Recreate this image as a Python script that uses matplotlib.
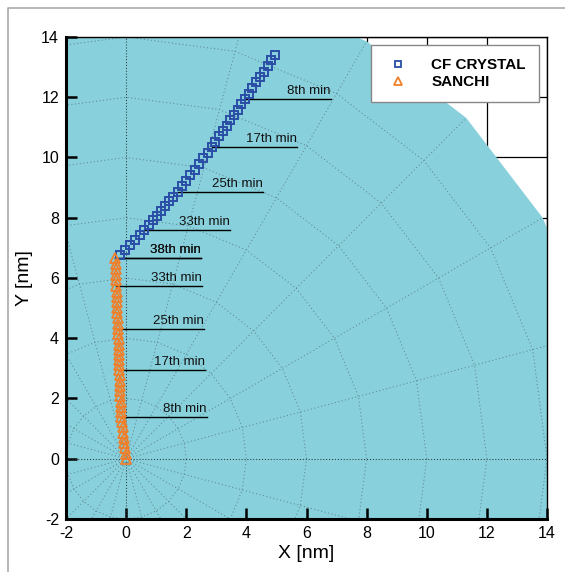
import numpy as np
import matplotlib
matplotlib.use('Agg')
import matplotlib.pyplot as plt
from matplotlib.lines import Line2D

plt.rcParams['font.family'] = ['Liberation Sans', 'DejaVu Sans']
plt.rcParams['axes.unicode_minus'] = False

# ---- data ----
minutes = list(range(39))

blue_x = [4.96, 4.83, 4.71, 4.58, 4.46, 4.33, 4.20, 4.08, 3.95, 3.83,
          3.71, 3.58, 3.46, 3.34, 3.22, 3.09, 2.97, 2.85, 2.71, 2.57,
          2.42, 2.28, 2.14, 2.00, 1.85, 1.71, 1.57, 1.44, 1.30, 1.16,
          1.02, 0.89, 0.75, 0.61, 0.45, 0.29, 0.12, -0.04, -0.20]
blue_y = [13.40, 13.22, 13.03, 12.85, 12.67, 12.49, 12.30, 12.12, 11.94, 11.76,
          11.59, 11.41, 11.23, 11.06, 10.88, 10.70, 10.53, 10.35, 10.16, 9.97,
          9.79, 9.60, 9.41, 9.22, 9.04, 8.85, 8.69, 8.54, 8.38, 8.22,
          8.06, 7.91, 7.75, 7.59, 7.42, 7.25, 7.09, 6.93, 6.77]

orange_x = [0.00, -0.02, -0.04, -0.06, -0.08, -0.10, -0.12, -0.14, -0.16, -0.17,
            -0.17, -0.18, -0.19, -0.20, -0.21, -0.21, -0.22, -0.23, -0.23, -0.24,
            -0.24, -0.25, -0.25, -0.25, -0.26, -0.26, -0.27, -0.28, -0.29, -0.30,
            -0.30, -0.31, -0.32, -0.33, -0.34, -0.34, -0.35, -0.35, -0.36]
orange_y = [0.00, 0.17, 0.35, 0.52, 0.69, 0.86, 1.04, 1.21, 1.38, 1.55,
            1.73, 1.90, 2.07, 2.25, 2.42, 2.59, 2.77, 2.94, 3.11, 3.28,
            3.45, 3.62, 3.79, 3.96, 4.13, 4.30, 4.48, 4.66, 4.84, 5.02,
            5.19, 5.37, 5.55, 5.73, 5.92, 6.10, 6.29, 6.47, 6.66]

label_minutes = [8, 17, 25, 33, 38]
label_texts = ['8th min', '17th min', '25th min', '33th min', '38th min']

series_names = ['CF CRYSTAL', 'SANCHI']

ticks = [-2, 0, 2, 4, 6, 8, 10, 12, 14]

# ---- styling ----
fill_color = '#88D0DC'
mesh_color = '#5f8891'
blue = '#2A4EA6'
orange = '#F07F2A'
label_len = 2.85

fig = plt.figure(figsize=(5.65, 5.72), dpi=100)
ax = fig.add_axes([66 / 565, 1 - 519 / 572, (547 - 66) / 565, (519 - 37) / 572])
ax.set_xlim(-2, 14)
ax.set_ylim(-2, 14)

# figure frame (thin gray line at left and top)
fig.add_artist(Line2D([8 / 565, 8 / 565, 1], [0, 1 - 8 / 572, 1 - 8 / 572],
                      color='#aaaaaa', lw=1.2, transform=fig.transFigure))

# solid grid lines behind domain
for v in ticks:
    ax.axvline(v, color='black', lw=0.9, zorder=0)
    ax.axhline(v, color='black', lw=0.9, zorder=0)

# domain
R = 16
ang = np.deg2rad(np.arange(0, 360, 15))
ax.fill(R * np.cos(ang), R * np.sin(ang), color=fill_color, lw=0, zorder=1)

dots = (0, (1, 2.4))
# mesh rings
a = np.deg2rad(np.arange(0, 361, 15))
for r in range(2, 16, 2):
    ax.plot(r * np.cos(a), r * np.sin(a), ls=dots, color=mesh_color, lw=0.75, zorder=2)
# mesh radials
for d in range(0, 360, 15):
    if d % 90 == 0:
        continue
    t = np.deg2rad(d)
    ax.plot([0, R * np.cos(t)], [0, R * np.sin(t)], ls=dots, color=mesh_color, lw=0.75, zorder=2)
# coordinate axes lines (darker dotted)
ax.plot([-R, R], [0, 0], ls=(0, (1, 1.8)), color='#2a3a40', lw=0.75, zorder=2)
ax.plot([0, 0], [-R, R], ls=(0, (1, 1.8)), color='#2a3a40', lw=0.75, zorder=2)

# series
ax.plot(blue_x, blue_y, 's', mfc='none', mec=blue, ms=6.2, mew=1.4, zorder=5)
ax.plot(orange_x, orange_y, '^', mfc='none', mec=orange, ms=6.5, mew=1.3, zorder=5)

# minute labels (the 38th-minute label of both series sits where the two fronts meet)
def minute_label(x0, y0, txt):
    ax.plot([x0, x0 + label_len], [y0, y0], color='black', lw=1.0, zorder=4)
    ax.text(x0 + label_len, y0 + 0.08, txt, ha='right', va='bottom',
            fontsize=9.5, color='#111111', zorder=6)

for m, txt in zip(label_minutes, label_texts):
    minute_label(orange_x[m], orange_y[m], txt)
    if m == label_minutes[-1]:
        minute_label(orange_x[m], orange_y[m], txt)
    else:
        minute_label(blue_x[m], blue_y[m], txt)

# legend
handles = [Line2D([], [], ls='none', marker='s', mfc='none', mec=blue, ms=5, mew=1.3),
           Line2D([], [], ls='none', marker='^', mfc='none', mec=orange, ms=5.5, mew=1.3)]
leg = ax.legend(handles, series_names, loc='upper right', bbox_to_anchor=(0.983, 0.983),
                borderaxespad=0, fancybox=False, framealpha=1, edgecolor='#888888',
                prop={'weight': 'bold', 'size': 11}, handletextpad=1.2, handlelength=1.9,
                labelspacing=0.2, borderpad=0.85)
leg.get_frame().set_linewidth(1.0)
leg.set_zorder(10)

# axes styling
ax.set_xticks(ticks)
ax.set_yticks(ticks)
ax.tick_params(direction='in', length=8, width=1.8, labelsize=11.5, top=False, right=False, pad=5)
for s in ['left', 'bottom']:
    ax.spines[s].set_linewidth(2.2)
for s in ['top', 'right']:
    ax.spines[s].set_linewidth(1.0)
for s in ax.spines.values():
    s.set_zorder(8)
ax.set_xlabel('X [nm]', fontsize=14, labelpad=3)
ax.set_ylabel('Y [nm]', fontsize=14, labelpad=6)

fig.savefig('out.png', dpi=100)
